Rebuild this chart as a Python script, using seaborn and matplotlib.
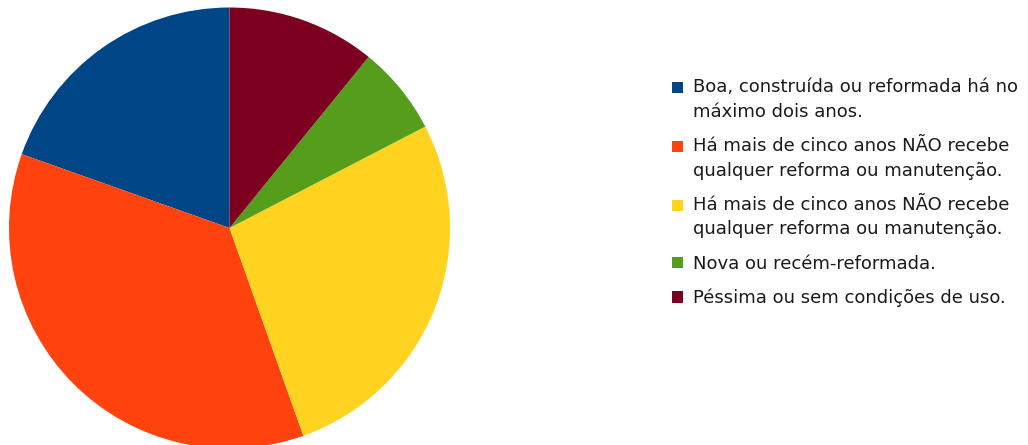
"""
Pizza: condição de conservação da estrutura.
"""
import matplotlib
matplotlib.use("Agg")
import matplotlib.pyplot as plt
from matplotlib.patches import Rectangle
from matplotlib.legend_handler import HandlerPatch
import seaborn as sns

# ---- dados (sentido anti-horário a partir do topo) ----
categorias = [
    "Boa, construída ou reformada há no\nmáximo dois anos.",
    "Há mais de cinco anos NÃO recebe\nqualquer reforma ou manutenção.",
    "Há mais de cinco anos NÃO recebe\nqualquer reforma ou manutenção.",
    "Nova ou recém-reformada.",
    "Péssima ou sem condições de uso.",
]
valores = [18, 33, 25, 6, 10]
cores = ["#004586", "#FF420E", "#FFD320", "#579D1C", "#7E0021"]

sns.set_theme(style="white")
plt.rcParams["font.family"] = ["DejaVu Sans"]
paleta = sns.color_palette(cores)

FS = 13
LINESP = 1.47
LINHA_PT = 18  # distância entre linhas (~25 px)


class QuadradoNoTopo(HandlerPatch):
    """Marcador quadrado alinhado com a primeira linha do rótulo."""

    def __init__(self, desloc):
        super().__init__()
        self.desloc = desloc

    def create_artists(self, legend, orig_handle, xdescent, ydescent,
                       width, height, fontsize, trans):
        p = Rectangle((-xdescent, -ydescent + self.desloc), width, height,
                      facecolor=orig_handle.get_facecolor(), linewidth=0,
                      transform=trans)
        return [p]


W, H = 1028, 445
fig = plt.figure(figsize=(W / 100, H / 100), dpi=100)

# pizza: centro (229.5, 228) px a partir do topo, raio ~220.5 px
cx, cy, r = 229.5, H - 228, 220.5
ax = fig.add_axes([(cx - r) / W, (cy - r) / H, 2 * r / W, 2 * r / H])
wedges, _ = ax.pie(valores, colors=paleta, startangle=90, counterclock=True,
                   radius=1, wedgeprops=dict(linewidth=0))
ax.set_xlim(-1, 1)
ax.set_ylim(-1, 1)
ax.set_aspect("equal")
ax.axis("off")

mapa = {}
for w, lab in zip(wedges, categorias):
    n = lab.count("\n")
    mapa[w] = QuadradoNoTopo(n * LINHA_PT / 2)

leg = fig.legend(wedges, categorias, loc="upper left", handler_map=mapa,
                 bbox_to_anchor=(665 / W, (H - 71) / H),
                 frameon=False, fontsize=FS, handlelength=0.6, handleheight=0.6,
                 handletextpad=0.55, labelspacing=0.9, borderaxespad=0)
for t in leg.get_texts():
    t.set_color("#1a1a1a")
    t.set_linespacing(LINESP)

fig.savefig("out.png", dpi=100)
plt.close(fig)
